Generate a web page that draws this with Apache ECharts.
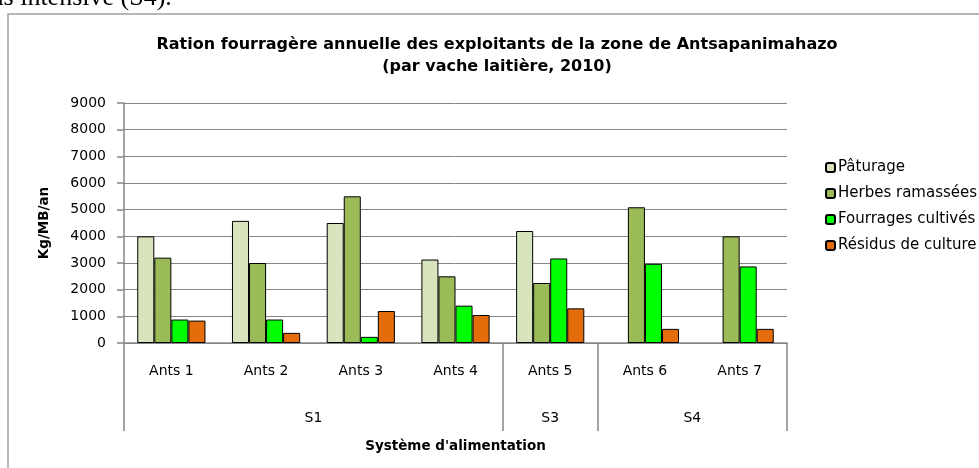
<!DOCTYPE html>
<html>
<head>
<meta charset="utf-8">
<script src="https://cdn.jsdelivr.net/npm/echarts@6/dist/echarts.min.js"></script>
<style>
  html, body { margin: 0; padding: 0; background: #fff; }
  #chart { width: 979px; height: 468px; }
</style>
</head>
<body>
<div id="chart"></div>
<script>
// exploitants (catégories) et systèmes d'alimentation
const ants = ['Ants 1', 'Ants 2', 'Ants 3', 'Ants 4', 'Ants 5', 'Ants 6', 'Ants 7']
const groups = ['S1', 'S3', 'S4']
const groupSizes = [4, 1, 2]

// Kg/MB/an par type de fourrage
const paturage = [4000, 4580, 4500, 3130, 4200, null, null]
const herbes = [3200, 3000, 5500, 2500, 2250, 5090, 4000]
const fourrages = [880, 880, 230, 1400, 3170, 2970, 2870]
const residus = [840, 380, 1200, 1050, 1300, 530, 530]

const yTicks = [0, 9000, 1000] // min, max, pas

// limites et centres des groupes sur l'axe secondaire
const bounds = [0]
const centers = []
groupSizes.forEach((n, i) => {
  centers.push(bounds[i] + n / 2)
  bounds.push(bounds[i] + n)
})

const font = 'DejaVu Sans'
const gray = '#868686'

const chart = echarts.init(document.getElementById('chart'))

const mkSeries = (name, data, color) => ({
  name,
  type: 'bar',
  data,
  barGap: '0%',
  barCategoryGap: '28%',
  itemStyle: { color, borderColor: '#000', borderWidth: 1 }
})

chart.setOption({
  animation: false,
  textStyle: { fontFamily: font, color: '#000' },
  title: {
    text: 'Ration fourragère annuelle des exploitants de la zone de Antsapanimahazo\n(par vache laitière, 2010)',
    left: 497,
    top: 34,
    padding: 0,
    textAlign: 'center',
    textStyle: { fontFamily: font, fontWeight: 'bold', fontSize: 16, lineHeight: 22, color: '#000' }
  },
  legend: {
    orient: 'vertical',
    left: 825,
    top: 160,
    itemWidth: 9,
    itemHeight: 9,
    itemGap: 11,
    padding: 0,
    textStyle: { fontFamily: font, fontSize: 15, color: '#000', padding: [0, 0, 0, -2] },
    data: ['Pâturage', 'Herbes ramassées', 'Fourrages cultivés', 'Résidus de culture']
  },
  grid: { left: 124, right: 192, top: 103, bottom: 125, containLabel: false, outerBoundsMode: 'none' },
  xAxis: [
    {
      type: 'category',
      data: ants,
      axisLine: { lineStyle: { color: gray, width: 1.5 } },
      axisTick: { show: false },
      axisLabel: { fontFamily: font, fontSize: 14, color: '#000', margin: 21 }
    },
    {
      type: 'value',
      position: 'bottom',
      min: bounds[0],
      max: bounds[bounds.length - 1],
      axisLine: { show: false },
      splitLine: { show: false },
      axisTick: { show: true, customValues: bounds, length: 88, lineStyle: { color: gray, width: 1.5 } },
      axisLabel: {
        customValues: centers,
        fontFamily: font,
        fontSize: 14,
        color: '#000',
        margin: 68,
        formatter: (v) => groups[centers.indexOf(v)] || ''
      },
      name: "Système d'alimentation",
      nameLocation: 'middle',
      nameGap: 96,
      nameTextStyle: { fontFamily: font, fontWeight: 'bold', fontSize: 13.5, color: '#000' }
    }
  ],
  yAxis: {
    type: 'value',
    min: yTicks[0],
    max: yTicks[1],
    interval: yTicks[2],
    name: 'Kg/MB/an',
    nameLocation: 'middle',
    nameRotate: 90,
    nameGap: 73,
    nameTextStyle: { fontFamily: font, fontWeight: 'bold', fontSize: 13.5, color: '#000' },
    axisLine: { show: true, lineStyle: { color: gray, width: 1.5 } },
    axisTick: { show: true, length: 7, lineStyle: { color: gray, width: 1.5 } },
    axisLabel: { fontFamily: font, fontSize: 14, color: '#000', margin: 18, formatter: (v) => String(v) },
    splitLine: { lineStyle: { color: gray, width: 1 } }
  },
  graphic: [
    {
      type: 'rect',
      shape: { x: 8, y: 14, width: 1200, height: 600 },
      style: { fill: null, stroke: '#a0a0a0', lineWidth: 1.5 },
      silent: true
    },
    {
      type: 'text',
      x: -8,
      y: 11,
      style: { text: 'as intensive (S4).', font: '26px "Liberation Serif"', fill: '#000', textVerticalAlign: 'bottom' },
      silent: true
    }
  ],
  series: [
    mkSeries('Pâturage', paturage, '#D7E4BD'),
    mkSeries('Herbes ramassées', herbes, '#9BBB59'),
    mkSeries('Fourrages cultivés', fourrages, '#00FF00'),
    mkSeries('Résidus de culture', residus, '#E46C0A')
  ]
})

window.addEventListener('resize', () => chart.resize())
</script>
</body>
</html>
